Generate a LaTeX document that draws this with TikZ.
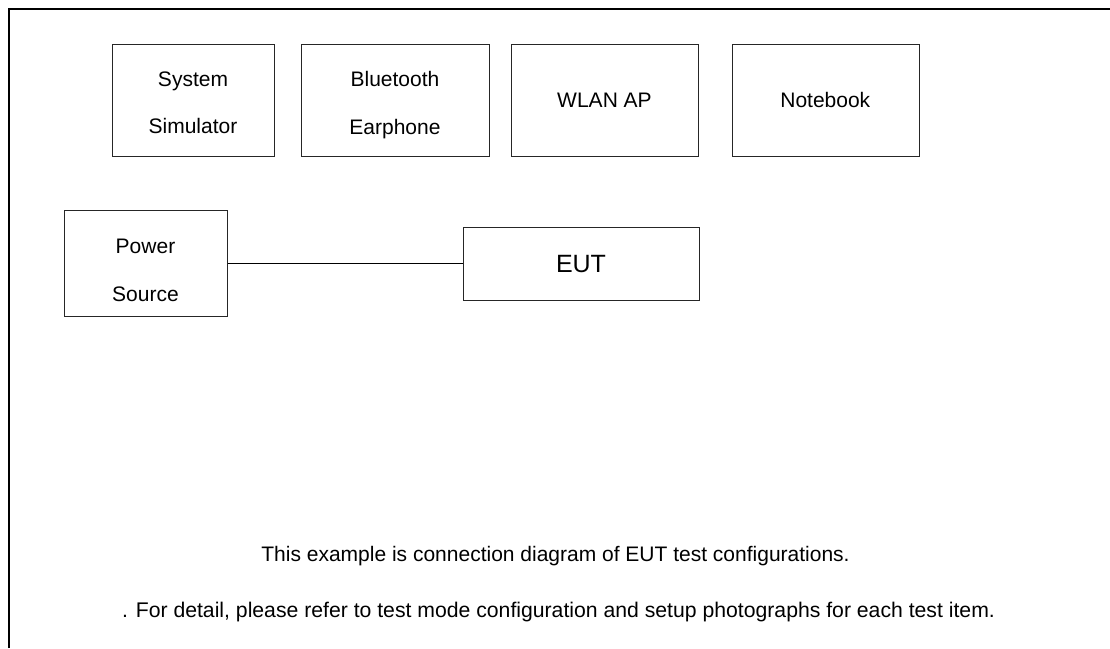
\documentclass[tikz,border=0pt]{standalone}
\usepackage{fontspec}
\setmainfont{Liberation Sans}
\begin{document}
\begin{tikzpicture}[x=1pt,y=-1pt,
  box/.style={draw=black!85,line width=1pt},
  txt/.style={inner sep=0pt,anchor=base,font=\fontsize{21}{25}\selectfont},
  big/.style={inner sep=0pt,anchor=base,font=\fontsize{25}{30}\selectfont}]
\useasboundingbox (0,0) rectangle (1110,648);
\draw[line width=2pt] (8.5,648) -- (8.5,9) -- (1110,9);
% boxes
\draw[box] (112,44) rectangle (274,156);
\draw[box] (301,44) rectangle (489,156);
\draw[box] (511,44) rectangle (698,156);
\draw[box] (732,44) rectangle (919,156);
\node[box,inner sep=0pt,minimum width=163pt,minimum height=106pt] (ps) at (145.5,263) {};
\node[box,inner sep=0pt,minimum width=236pt,minimum height=73pt] (eut) at (581,263.5) {};
\draw[line width=1pt] (ps.east) -- (ps.east -| eut.west);
% texts
\node[txt] (t1a) at (193,86) {System};
\node[txt] (t1b) at (193,133.5) {Simulator};
\node[txt] (t2a) at (395,86) {Bluetooth};
\node[txt] (t2b) at (395,134) {Earphone};
\node[txt] (t3) at (604.5,107.3) {WLAN AP};
\node[txt] (t4) at (825.3,107.3) {Notebook};
\node[txt] (t5a) at (145.5,253.3) {Power};
\node[txt] (t5b) at (145.5,301) {Source};
\node[big] (t6) at (581,272.3) {EUT};
\node[txt] (n1) at (555.5,561.7) {This example is connection diagram of EUT test configurations.};
\node[txt,font=\fontsize{21.2}{25}\selectfont] (n2) at (558.5,617) {. For detail, please refer to test mode configuration and setup photographs for each test item.};
\end{tikzpicture}
\end{document}
